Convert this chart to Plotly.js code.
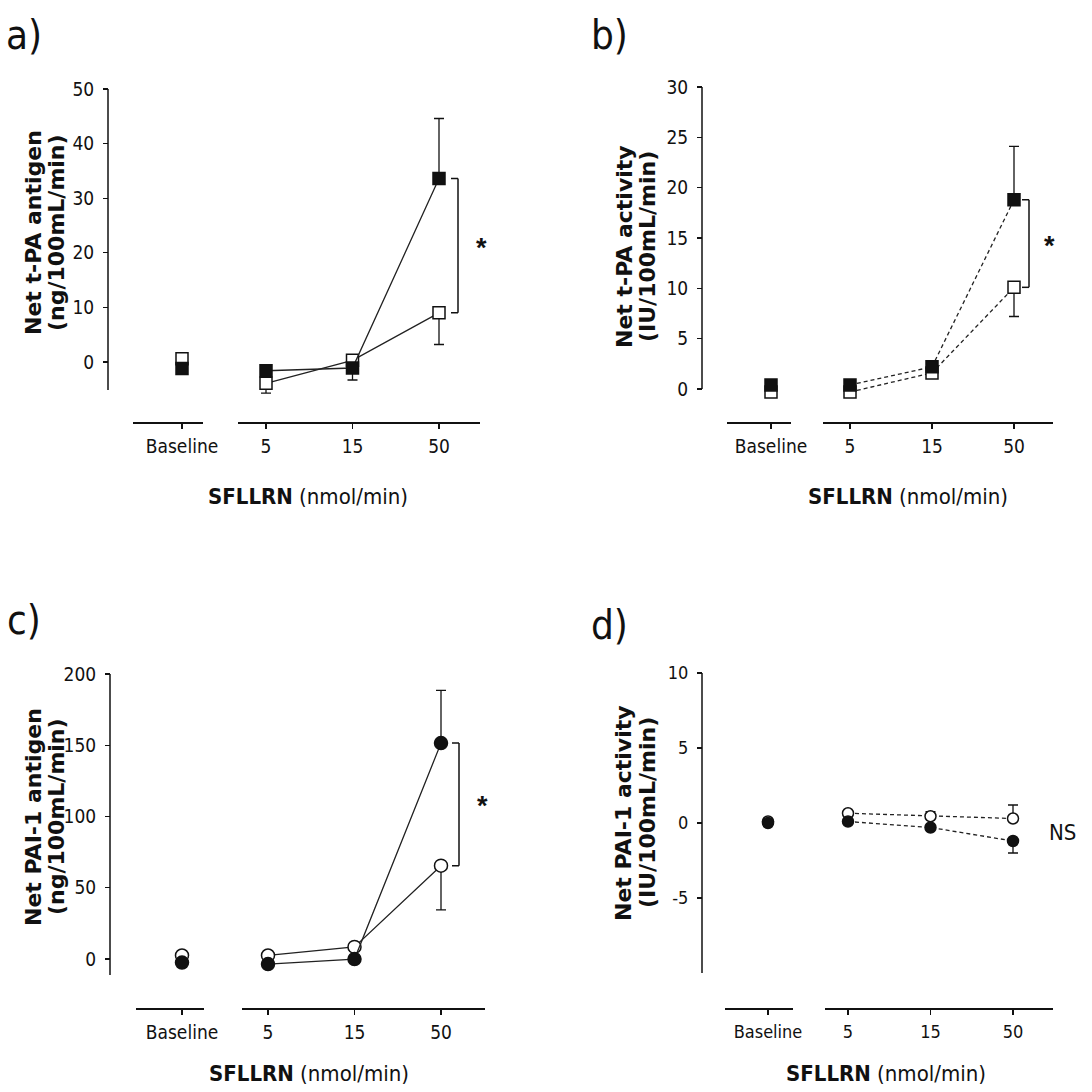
<!DOCTYPE html>
<html>
<head>
<meta charset="utf-8">
<script src="https://cdn.plot.ly/plotly-3.0.1.min.js"></script>
<style>html,body{margin:0;padding:0;background:#fff}#chart{width:1092px;height:1092px}</style>
</head>
<body>
<div id="chart"></div>
<script>
// ---------------- data ----------------
const categories = ['Baseline', '5', '15', '50'];
const xTitleBold = 'SFLLRN';
const xTitleRest = ' (nmol/min)';
const panelLabels = ['a)', 'b)', 'c)', 'd)'];
const sigLabels = ['*', '*', '*', 'NS'];
const yTitleLine1 = ['Net t-PA antigen', 'Net t-PA activity', 'Net PAI-1 antigen', 'Net PAI-1 activity'];
const yTitleLine2 = ['(ng/100mL/min)', '(IU/100mL/min)', '(ng/100mL/min)', '(IU/100mL/min)'];
const yTickVals = [[0, 10, 20, 30, 40, 50], [0, 5, 10, 15, 20, 25, 30], [0, 50, 100, 150, 200], [-5, 0, 5, 10]];

// a) t-PA antigen
const tpaAgOpen = [0.6, -3.9, 0.3, 9.0];
const tpaAgOpenErrUp = [0, 0, 0, 0];
const tpaAgOpenErrDown = [0, 1.8, 0, 5.8];
const tpaAgFilled = [-1.2, -1.6, -1.1, 33.6];
const tpaAgFilledErrUp = [0, 0, 0, 11.0];
const tpaAgFilledErrDown = [0, 0, 2.2, 0];

// b) t-PA activity
const tpaActOpen = [-0.3, -0.3, 1.6, 10.1];
const tpaActOpenErrUp = [0, 0, 0, 0];
const tpaActOpenErrDown = [0, 0, 0, 2.9];
const tpaActFilled = [0.4, 0.4, 2.2, 18.8];
const tpaActFilledErrUp = [0, 0, 0, 5.3];
const tpaActFilledErrDown = [0, 0, 0, 0];

// c) PAI-1 antigen
const paiAgOpen = [2.5, 2.5, 8.5, 65.5];
const paiAgOpenErrUp = [0, 0, 0, 0];
const paiAgOpenErrDown = [0, 0, 0, 31.0];
const paiAgFilled = [-2.5, -3.5, 0.0, 151.5];
const paiAgFilledErrUp = [0, 0, 0, 37.0];
const paiAgFilledErrDown = [0, 0, 0, 0];

// d) PAI-1 activity
const paiActOpen = [0.1, 0.65, 0.45, 0.3];
const paiActOpenErrUp = [0, 0, 0.3, 0.9];
const paiActOpenErrDown = [0, 0, 0, 0];
const paiActFilled = [0.0, 0.1, -0.3, -1.2];
const paiActFilledErrUp = [0, 0, 0, 0];
const paiActFilledErrDown = [0, 0, 0, 0.8];

// ---------------- layout geometry (pixels) ----------------
const W = 1092, H = 1092;
const px = p => p / W;
const py = p => 1 - p / H;

const panels = [
  {open: tpaAgOpen, openUp: tpaAgOpenErrUp, openDown: tpaAgOpenErrDown,
   filled: tpaAgFilled, filledUp: tpaAgFilledErrUp, filledDown: tpaAgFilledErrDown,
   yAxisX: 108, yTop: 89, yBot: 390, yRange: [-5.13, 50], yExt: 1.0, xAxisY: 422,
   base: {dom: [133, 203], tick: 182}, main: {dom: [238, 480], ticks: [266, 352, 439]},
   titleX: [33, 56], titleY: 233, xTitle: [308, 497], label: [24, 35],
   bracketX: 458, starX: 481, symbol: 'square', size: 12, dash: 'solid', tickSize: 19},
  {open: tpaActOpen, openUp: tpaActOpenErrUp, openDown: tpaActOpenErrDown,
   filled: tpaActFilled, filledUp: tpaActFilledErrUp, filledDown: tpaActFilledErrDown,
   yAxisX: 702, yTop: 87, yBot: 389, yRange: [0, 30], yExt: 1.0, xAxisY: 422,
   base: {dom: [727, 791], tick: 771}, main: {dom: [823, 1053], ticks: [850, 932, 1014]},
   titleX: [625, 648], titleY: 247, xTitle: [908, 497], label: [609, 35],
   bracketX: 1029, starX: 1049, symbol: 'square', size: 12, dash: '4px,3px', tickSize: 19},
  {open: paiAgOpen, openUp: paiAgOpenErrUp, openDown: paiAgOpenErrDown,
   filled: paiAgFilled, filledUp: paiAgFilledErrUp, filledDown: paiAgFilledErrDown,
   yAxisX: 110, yTop: 674, yBot: 975, yRange: [-11.2, 200], yExt: 5, xAxisY: 1008,
   base: {dom: [136, 204], tick: 182}, main: {dom: [242, 485], ticks: [268, 355, 441]},
   titleX: [33, 56], titleY: 817, xTitle: [309, 1073], label: [24, 620],
   bracketX: 459, starX: 482, symbol: 'circle', size: 13, dash: 'solid', tickSize: 19},
  {open: paiActOpen, openUp: paiActOpenErrUp, openDown: paiActOpenErrDown,
   filled: paiActFilled, filledUp: paiActFilledErrUp, filledDown: paiActFilledErrDown,
   yAxisX: 702, yTop: 673, yBot: 973, yRange: [-10, 10], yExt: 0, xAxisY: 1008,
   base: {dom: [725, 793], tick: 768}, main: {dom: [825, 1053], ticks: [848, 930, 1013]},
   titleX: [623, 647], titleY: 813, xTitle: [886, 1073], label: [609, 625],
   bracketX: null, starX: 1047, symbol: 'circle', size: 11, dash: '4px,3px', tickSize: 18}
];

const NARROW = '"DejaVu Sans Condensed", "Liberation Sans Narrow", "Arial Narrow", sans-serif';
const BOLDWIDE = '"DejaVu Sans", "Liberation Sans", sans-serif';
const INK = '#111';

const traces = [];
const layout = {
  width: W, height: H,
  margin: {l: 0, r: 0, t: 0, b: 0},
  paper_bgcolor: '#fff', plot_bgcolor: 'rgba(0,0,0,0)',
  showlegend: false,
  shapes: [], annotations: []
};

panels.forEach((p, i) => {
  const yId = i === 0 ? 'y' : 'y' + (i + 1);
  const mainX = 'x' + (2 * i + 1 === 1 ? '' : 2 * i + 1);
  const baseX = 'x' + (2 * i + 2);
  const yKey = 'yaxis' + (i === 0 ? '' : i + 1);
  const mainKey = 'xaxis' + (2 * i + 1 === 1 ? '' : 2 * i + 1);
  const baseKey = 'xaxis' + (2 * i + 2);

  const sp = (p.main.ticks[2] - p.main.ticks[0]) / 2;
  const mainRange = [-(p.main.ticks[0] - p.main.dom[0]) / sp, 2 + (p.main.dom[1] - p.main.ticks[2]) / sp];
  const baseRange = [-(p.base.tick - p.base.dom[0]) / sp, (p.base.dom[1] - p.base.tick) / sp];

  // y scale; range extended slightly below the drawn axis line so edge markers stay visible
  const ppu = (p.yBot - p.yTop) / (p.yRange[1] - p.yRange[0]);
  const yBotExt = p.yBot + p.yExt * ppu;

  const tickFont = {family: NARROW, size: p.tickSize, color: INK};
  layout[yKey] = {
    domain: [py(yBotExt), py(p.yTop)], range: [p.yRange[0] - p.yExt, p.yRange[1]],
    anchor: 'free', position: px(p.yAxisX),
    showline: false, ticks: 'outside', ticklen: 5, tickwidth: 1.3,
    tickcolor: INK, tickmode: 'array', tickvals: yTickVals[i], ticktext: yTickVals[i].map(String),
    showgrid: false, zeroline: false,
    tickfont: tickFont, ticklabelstandoff: 5, fixedrange: true
  };
  layout.shapes.push({type: 'line', xref: 'paper', yref: yId, x0: px(p.yAxisX), x1: px(p.yAxisX),
    y0: p.yRange[0], y1: p.yRange[1], line: {color: INK, width: 1.5}});

  const xCommon = {
    type: 'category', anchor: 'free', position: py(p.xAxisY),
    showline: true, linecolor: INK, linewidth: 1.5, ticks: 'outside', ticklen: 5, tickwidth: 1.3,
    tickcolor: INK, showgrid: false, zeroline: false, tickfont: tickFont, ticklabelstandoff: 2,
    fixedrange: true
  };
  layout[mainKey] = Object.assign({}, xCommon, {
    domain: [px(p.main.dom[0]), px(p.main.dom[1])], range: mainRange,
    categoryorder: 'array', categoryarray: categories.slice(1)
  });
  layout[baseKey] = Object.assign({}, xCommon, {
    domain: [px(p.base.dom[0]), px(p.base.dom[1])], range: baseRange,
    categoryorder: 'array', categoryarray: categories.slice(0, 1)
  });

  const series = [
    {y: p.open, up: p.openUp, down: p.openDown, fill: '#fff'},
    {y: p.filled, up: p.filledUp, down: p.filledDown, fill: INK}
  ];
  series.forEach(s => {
    const marker = {symbol: p.symbol, size: p.size, color: s.fill, line: {color: INK, width: 1.5}};
    const err = (arrUp, arrDown) => ({type: 'data', symmetric: false, array: arrUp, arrayminus: arrDown,
      color: INK, thickness: 1.3, width: 5});
    traces.push({
      type: 'scatter', mode: 'lines+markers', xaxis: mainX, yaxis: yId,
      x: categories.slice(1), y: s.y.slice(1),
      line: {color: '#222', width: 1.3, dash: p.dash},
      marker: marker, cliponaxis: false, hoverinfo: 'skip',
      error_y: err(s.up.slice(1), s.down.slice(1))
    });
    traces.push({
      type: 'scatter', mode: 'markers', xaxis: baseX, yaxis: yId,
      x: categories.slice(0, 1), y: s.y.slice(0, 1),
      marker: marker, cliponaxis: false, hoverinfo: 'skip',
      error_y: err(s.up.slice(0, 1), s.down.slice(0, 1))
    });
  });

  const last = categories.length - 1;
  const hi = Math.max(p.open[last], p.filled[last]);
  const lo = Math.min(p.open[last], p.filled[last]);
  if (p.bracketX !== null) {
    const ln = {color: INK, width: 1.5};
    layout.shapes.push({type: 'line', xref: 'paper', yref: yId, x0: px(p.bracketX), x1: px(p.bracketX), y0: lo, y1: hi, line: ln});
    layout.shapes.push({type: 'line', xref: 'paper', yref: yId, x0: px(p.bracketX - 7), x1: px(p.bracketX), y0: hi, y1: hi, line: ln});
    layout.shapes.push({type: 'line', xref: 'paper', yref: yId, x0: px(p.bracketX - 7), x1: px(p.bracketX), y0: lo, y1: lo, line: ln});
    layout.annotations.push({xref: 'paper', yref: yId, x: px(p.starX), y: (hi + lo) / 2,
      text: '<b>' + sigLabels[i] + '</b>', showarrow: false, xanchor: 'center', yanchor: 'middle',
      yshift: -2, font: {family: '"Liberation Sans", sans-serif', size: 27, color: INK}});
  } else {
    layout.annotations.push({xref: 'paper', yref: yId, x: px(p.starX), y: (hi + lo) / 2,
      text: sigLabels[i], showarrow: false, xanchor: 'left', yanchor: 'middle',
      yshift: -3, font: {family: NARROW, size: 22, color: INK}});
  }

  // y-axis titles (two lines)
  layout.annotations.push({xref: 'paper', yref: 'paper', x: px(p.titleX[0]), y: py(p.titleY),
    text: '<b>' + yTitleLine1[i] + '</b>', textangle: -90, showarrow: false,
    xanchor: 'center', yanchor: 'middle', font: {family: BOLDWIDE, size: 22, color: INK}});
  layout.annotations.push({xref: 'paper', yref: 'paper', x: px(p.titleX[1]), y: py(p.titleY),
    text: '<b>' + yTitleLine2[i] + '</b>', textangle: -90, showarrow: false,
    xanchor: 'center', yanchor: 'middle', font: {family: BOLDWIDE, size: 22, color: INK}});
  // x-axis title
  layout.annotations.push({xref: 'paper', yref: 'paper', x: px(p.xTitle[0]), y: py(p.xTitle[1]),
    text: '<b>' + xTitleBold + '</b>' + xTitleRest, showarrow: false,
    xanchor: 'center', yanchor: 'middle', font: {family: NARROW, size: 22, color: INK}});
  // panel label
  layout.annotations.push({xref: 'paper', yref: 'paper', x: px(p.label[0]), y: py(p.label[1]),
    text: panelLabels[i], showarrow: false, xanchor: 'center', yanchor: 'middle',
    font: {family: NARROW, size: 40, color: INK}});
});

Plotly.newPlot('chart', traces, layout, {staticPlot: true, displayModeBar: false});
</script>
</body>
</html>
